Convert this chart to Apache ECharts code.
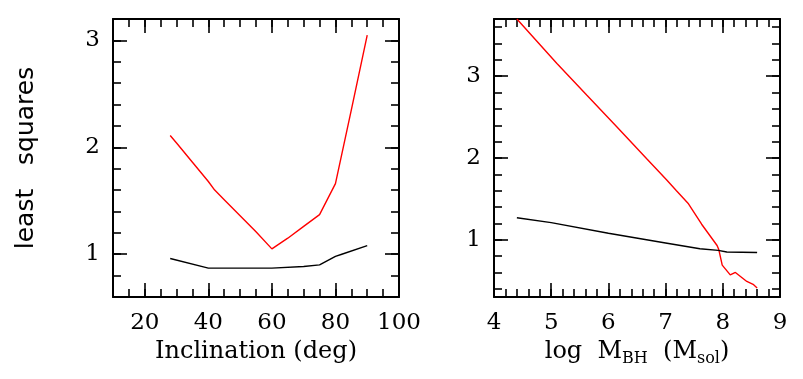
<!DOCTYPE html>
<html>
<head>
<meta charset="utf-8">
<script src="https://cdn.jsdelivr.net/npm/echarts@6/dist/echarts.min.js"></script>
<style>
  html, body { margin: 0; padding: 0; background: #fff; }
  #chart { width: 803px; height: 379px; }
</style>
</head>
<body>
<div id="chart"></div>
<script>
// left panel: inclination
const incRedX = [28, 30, 35, 40, 42, 45, 50, 55, 60, 65, 70, 75, 80, 85, 90];
const incRedY = [2.11, 2.04, 1.86, 1.68, 1.60, 1.51, 1.36, 1.21, 1.05, 1.15, 1.26, 1.37, 1.66, 2.35, 3.05];
const incBlackX = [28, 40, 50, 60, 70, 75, 80, 82, 90];
const incBlackY = [0.96, 0.87, 0.87, 0.87, 0.885, 0.90, 0.98, 1.00, 1.08];

// right panel: black hole mass
const massRedX = [4.4, 5.1, 5.62, 6.15, 6.67, 7.02, 7.19, 7.4, 7.63, 7.9, 7.93, 7.99, 8.13, 8.22, 8.42, 8.53, 8.6];
const massRedY = [3.70, 3.155, 2.77, 2.38, 1.99, 1.73, 1.60, 1.44, 1.19, 0.93, 0.88, 0.69, 0.57, 0.60, 0.49, 0.455, 0.41];
const massBlackX = [4.4, 5.0, 6.0, 7.0, 7.6, 7.92, 8.07, 8.6];
const massBlackY = [1.27, 1.21, 1.08, 0.96, 0.89, 0.87, 0.85, 0.845];

// tick values
const incMajor = [20, 40, 60, 80, 100];
const incMinor = [15, 20, 25, 30, 35, 40, 45, 50, 55, 60, 65, 70, 75, 80, 85, 90, 95];
const lsqLeftMajor = [1, 2, 3];
const lsqLeftMinor = [0.8, 1, 1.2, 1.4, 1.6, 1.8, 2, 2.2, 2.4, 2.6, 2.8, 3];
const massMajor = [4, 5, 6, 7, 8, 9];
const massMinor = [4.2, 4.4, 4.6, 4.8, 5, 5.2, 5.4, 5.6, 5.8, 6, 6.2, 6.4, 6.6, 6.8, 7,
  7.2, 7.4, 7.6, 7.8, 8, 8.2, 8.4, 8.6, 8.8];
const lsqRightMajor = [1, 2, 3];
const lsqRightMinor = [0.4, 0.6, 0.8, 1, 1.2, 1.4, 1.6, 1.8, 2, 2.2, 2.4, 2.6, 2.8, 3,
  3.2, 3.4, 3.6];

const serif = 'DejaVu Serif';
const lineCol = '#000';

function pair(data) {
  return data[0].map((x, i) => [x, data[1][i]]);
}

// builds one axis (major or minor ticks) on a side of a grid
function axis(grid, pos, min, max, ticks, len, withLine, labels, extra) {
  const a = {
    type: 'value',
    gridIndex: grid,
    position: pos,
    min: min,
    max: max,
    axisLine: { show: withLine, onZero: false, lineStyle: { color: lineCol, width: 2 } },
    axisTick: { show: true, inside: true, length: len, customValues: ticks,
      lineStyle: { color: lineCol, width: 1.6 } },
    axisLabel: { show: !!labels, customValues: labels || ticks,
      fontFamily: serif, fontSize: 23, color: '#000',
      margin: (pos === 'bottom') ? 15 : 13 },
    splitLine: { show: false }
  };
  return Object.assign(a, extra || {});
}

const chart = echarts.init(document.getElementById('chart'));

const option = {
  animation: false,
  backgroundColor: '#fff',
  grid: [
    { left: 113, right: 404, top: 19, bottom: 82 },
    { left: 494, right: 23, top: 19, bottom: 82 }
  ],
  xAxis: [
    axis(0, 'bottom', 10, 100, incMajor, 14, true, incMajor, {
      name: 'Inclination (deg)', nameLocation: 'middle', nameGap: 40,
      nameTextStyle: { fontFamily: serif, fontSize: 24, color: '#000' }
    }),
    axis(0, 'bottom', 10, 100, incMinor, 8, false, null),
    axis(0, 'top', 10, 100, incMajor, 14, true, null),
    axis(0, 'top', 10, 100, incMinor, 8, false, null),
    axis(1, 'bottom', 4, 9, massMajor, 14, true, massMajor, {
      name: '{n|log  M}{s|BH}{n|  (M}{s|sol}{n|)}', nameLocation: 'middle', nameGap: 40,
      nameTextStyle: {
        rich: {
          n: { fontFamily: serif, fontSize: 24, color: '#000' },
          s: { fontFamily: serif, fontSize: 16, color: '#000', padding: [14, 0, 0, 0] }
        }
      }
    }),
    axis(1, 'bottom', 4, 9, massMinor, 8, false, null),
    axis(1, 'top', 4, 9, massMajor, 14, true, null),
    axis(1, 'top', 4, 9, massMinor, 8, false, null)
  ],
  yAxis: [
    axis(0, 'left', 0.6, 3.2, lsqLeftMajor, 14, true, lsqLeftMajor, {
      name: 'least   squares', nameLocation: 'middle', nameGap: 74,
      nameTextStyle: { fontFamily: 'DejaVu Sans', fontSize: 25, color: '#000' }
    }),
    axis(0, 'left', 0.6, 3.2, lsqLeftMinor, 8, false, null),
    axis(0, 'right', 0.6, 3.2, lsqLeftMajor, 14, true, null),
    axis(0, 'right', 0.6, 3.2, lsqLeftMinor, 8, false, null),
    axis(1, 'left', 0.3, 3.7, lsqRightMajor, 14, true, lsqRightMajor),
    axis(1, 'left', 0.3, 3.7, lsqRightMinor, 8, false, null),
    axis(1, 'right', 0.3, 3.7, lsqRightMajor, 14, true, null),
    axis(1, 'right', 0.3, 3.7, lsqRightMinor, 8, false, null)
  ],
  series: [
    { type: 'line', xAxisIndex: 0, yAxisIndex: 0, data: pair([incRedX, incRedY]),
      showSymbol: false, lineStyle: { color: '#ff0000', width: 1.4 }, z: 3 },
    { type: 'line', xAxisIndex: 0, yAxisIndex: 0, data: pair([incBlackX, incBlackY]),
      showSymbol: false, lineStyle: { color: '#000', width: 1.4 }, z: 3 },
    { type: 'line', xAxisIndex: 4, yAxisIndex: 4, data: pair([massRedX, massRedY]),
      showSymbol: false, lineStyle: { color: '#ff0000', width: 1.4 }, z: 3 },
    { type: 'line', xAxisIndex: 4, yAxisIndex: 4, data: pair([massBlackX, massBlackY]),
      showSymbol: false, lineStyle: { color: '#000', width: 1.4 }, z: 3 }
  ]
};

chart.setOption(option);
</script>
</body>
</html>
